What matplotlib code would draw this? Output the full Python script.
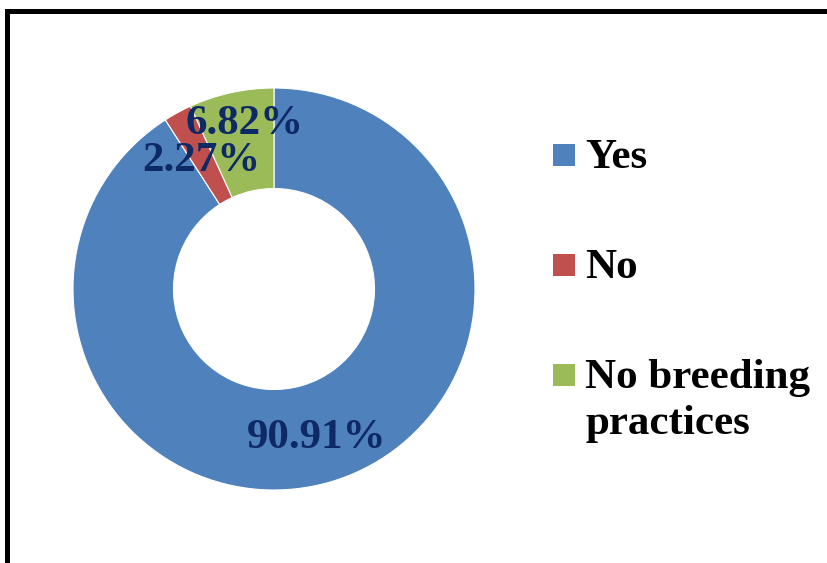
import matplotlib
matplotlib.use("Agg")
import matplotlib.pyplot as plt
from matplotlib.patches import Rectangle
import numpy as np

categories = ["Yes", "No", "No breeding\npractices"]
shares = [90.91, 2.27, 6.82]
colors = ["#4F81BD", "#C0504D", "#9BBB59"]
label_color = "#0E2A66"

W, H = 828, 563
fig = plt.figure(figsize=(W / 100, H / 100), dpi=100)

# Donut placed in a square box (pixel units converted to figure fractions)
cx, cy, r = 274, 289, 201
ax = fig.add_axes([(cx - r) / W, (H - cy - r) / H, 2 * r / W, 2 * r / H])
wedges, _ = ax.pie(
    shares, colors=colors, startangle=90, counterclock=False, radius=1.0,
    wedgeprops=dict(width=0.5, edgecolor="white", linewidth=0.8),
)
ax.set_xlim(-1, 1)
ax.set_ylim(-1, 1)
ax.set_aspect("equal")
ax.axis("off")

font = dict(family=["Liberation Serif", "DejaVu Serif"], weight="bold", size=31)

# Percentage labels near the middle of each ring segment
dist = [0.75, 0.75, 0.85]
shift = [(0.0, -0.02), (0.0, -0.02), (0.035, -0.01)]
for w, val, d, (dx, dy) in zip(wedges, shares, dist, shift):
    mid = np.deg2rad((w.theta1 + w.theta2) / 2)
    ax.text(d * np.cos(mid) + dx, d * np.sin(mid) + dy, f"{val:.2f}%",
            ha="center", va="center", color=label_color, **font)

# Legend with square markers; the text's first line sits beside the square
sq = 22
rows = [155, 265, 375]
line_step = 46
for col, label, yc in zip(colors, categories, rows):
    fig.patches.append(Rectangle((553 / W, (H - yc - sq / 2) / H), sq / W, sq / H,
                                 transform=fig.transFigure, facecolor=col,
                                 edgecolor="none"))
    for i, line in enumerate(label.split("\n")):
        fig.text(585 / W, (H - yc - 13 - i * line_step) / H, line, ha="left",
                 va="baseline", color="black", **font)

# Outer frame running off the right and bottom edges
fig.patches.append(Rectangle((7 / W, -0.2), 1.3, (H - 10.5) / H + 0.2,
                             transform=fig.transFigure, facecolor="none",
                             edgecolor="black", linewidth=3.6, clip_on=False))

fig.savefig("out.png", dpi=100)
